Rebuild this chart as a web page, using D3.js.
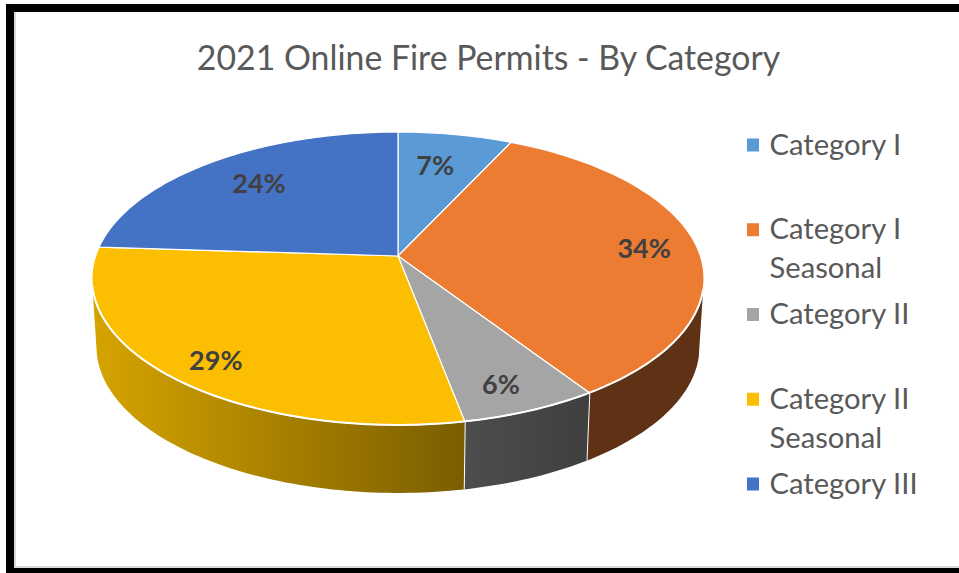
<!DOCTYPE html>
<html>
<head>
<meta charset="utf-8">
<script src="https://cdn.jsdelivr.net/npm/d3@7"></script>
<style>
html, body { margin: 0; padding: 0; background: #fff; }
svg { display: block; }
text { font-family: Lato, "Open Sans", sans-serif; }
</style>
</head>
<body>
<script>
var title = "2021 Online Fire Permits - By Category";
var categories = ["Category I", "Category I Seasonal", "Category II", "Category II Seasonal", "Category III"];
var values = [7, 33.7, 6.3, 29, 24];
var topColors = ["#5b9bd5", "#eb7c32", "#a5a5a5", "#fcbe00", "#4472c4"];
// left and right ends of the shading on the side wall
var wallColors = [["#3a5f82", "#3a5f82"], ["#5f3216", "#5f3216"], ["#4d4d4d", "#3f3f3f"], ["#d6a400", "#7a5d00"], ["#2a4578", "#2a4578"]];

var width = 959, height = 573;
var svg = d3.select("body").append("svg").attr("width", width).attr("height", height);
var defs = svg.append("defs");

// frame of the pasted screenshot
svg.append("rect").attr("x", 6).attr("y", 4).attr("width", width - 6).attr("height", 8).attr("fill", "#000");
svg.append("rect").attr("x", 6).attr("y", 4).attr("width", 8).attr("height", height - 4).attr("fill", "#000");
svg.append("rect").attr("x", 6).attr("y", 568).attr("width", width - 6).attr("height", 5).attr("fill", "#000");
svg.append("rect").attr("x", 14).attr("y", 12).attr("width", 2).attr("height", 556).attr("fill", "#d9d9d9");
svg.append("rect").attr("x", 14).attr("y", 566).attr("width", width - 14).attr("height", 2).attr("fill", "#d9d9d9");

svg.append("text")
	.attr("x", 488.5).attr("y", 70)
	.attr("text-anchor", "middle")
	.attr("font-size", 33.8)
	.attr("fill", "#595959")
	.text(title);

var arcs = d3.pie().sort(null)(values);

/**
 * Perspective projection of a point of the pie disc to the page
 */
function project(angle, r, disc) {
	var u = r * Math.sin(angle), v = -r * Math.cos(angle);
	var w = 1 - disc.k * v;
	return [disc.cx + disc.a * u / w, disc.cy + disc.b * v / w];
}

var topDisc = { cx: 398, cy: 256, a: 302.4, b: 143, k: 0.1535 };
var lowDisc = { cx: 398, cy: 324, a: 298, b: 143, k: 0.1535 };
var wallStart = 103 * Math.PI / 180, wallEnd = 258 * Math.PI / 180;

function rimPoints(a0, a1, disc) {
	var n = Math.max(2, Math.ceil((a1 - a0) / 0.02));
	return d3.range(n + 1).map(function (i) {
		return project(a0 + (a1 - a0) * i / n, 1, disc);
	});
}

var line = d3.line();

// side wall first, the top of the disc goes over it
arcs.forEach(function (d, i) {
	var a0 = Math.max(d.startAngle, wallStart), a1 = Math.min(d.endAngle, wallEnd);
	if (a1 <= a0)
		return;

	var top = rimPoints(a0, a1, topDisc), low = rimPoints(a0, a1, lowDisc).reverse();
	var grad = defs.append("linearGradient")
		.attr("id", "wall" + i)
		.attr("gradientUnits", "userSpaceOnUse")
		.attr("x1", d3.min(top, function (p) { return p[0]; }))
		.attr("x2", d3.max(top, function (p) { return p[0]; }))
		.attr("y1", 0).attr("y2", 0);
	grad.append("stop").attr("offset", 0).attr("stop-color", wallColors[i][0]);
	grad.append("stop").attr("offset", 1).attr("stop-color", wallColors[i][1]);

	svg.append("path")
		.attr("d", line(top.concat(low)) + "Z")
		.attr("fill", "url(#wall" + i + ")");

	// white seam between two walls
	if (a1 < wallEnd)
		svg.append("path")
			.attr("d", line([project(a1, 1, topDisc), project(a1, 1, lowDisc)]))
			.attr("stroke", "#fff").attr("stroke-width", 2).attr("fill", "none");
});

svg.selectAll("path.slice")
	.data(arcs)
	.enter().append("path")
	.attr("class", "slice")
	.attr("d", function (d) {
		return line([[topDisc.cx, topDisc.cy]].concat(rimPoints(d.startAngle, d.endAngle, topDisc))) + "Z";
	})
	.attr("fill", function (d, i) { return topColors[i]; })
	.attr("stroke", "#fff")
	.attr("stroke-width", 1.2)
	.attr("stroke-linejoin", "round");

// heavier white edge where the top meets the wall
svg.append("path")
	.attr("d", line(rimPoints(wallStart, wallEnd, topDisc)))
	.attr("fill", "none")
	.attr("stroke", "#fff")
	.attr("stroke-width", 2);

// nudges off the projected label spot, the spreadsheet placed these by hand
var labelNudge = [[-10, 9], [7, 1], [0, 9], [-6, 10], [13, 4]];

svg.selectAll("text.pct")
	.data(arcs)
	.enter().append("text")
	.attr("class", "pct")
	.attr("transform", function (d, i) {
		var p = project((d.startAngle + d.endAngle) / 2, 0.8, topDisc);
		return "translate(" + (p[0] + labelNudge[i][0]) + "," + (p[1] + labelNudge[i][1]) + ")";
	})
	.attr("text-anchor", "middle")
	.attr("dy", "0.35em")
	.attr("font-size", 27)
	.attr("font-weight", 700)
	.attr("fill", "#404040")
	.text(function (d) { return d3.format(".0f")(d.value) + "%"; });

var legendY = d3.scaleLinear().domain([0, categories.length - 1]).range([145, 484]);
var legend = svg.selectAll("g.legend")
	.data(categories)
	.enter().append("g")
	.attr("class", "legend")
	.attr("transform", function (d, i) { return "translate(747," + legendY(i) + ")"; });

legend.append("rect")
	.attr("y", -6.5).attr("width", 12).attr("height", 13)
	.attr("fill", function (d, i) { return topColors[i]; });

legend.append("text")
	.attr("font-size", 29.2)
	.attr("fill", "#595959")
	.selectAll("tspan")
	.data(function (d) {
		var m = d.match(/^(.*) (Seasonal)$/);
		return m ? [m[1], m[2]] : [d];
	})
	.enter().append("tspan")
	.attr("x", 22.5)
	.attr("y", function (d, i) { return 9.5 + i * 39; })
	.text(function (d) { return d; });
</script>
</body>
</html>
